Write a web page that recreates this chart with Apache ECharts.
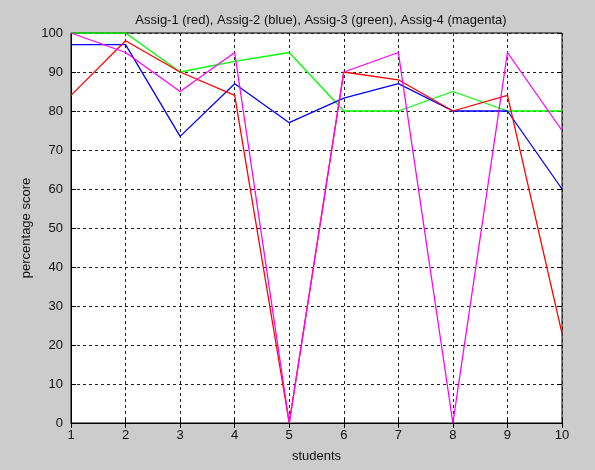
<!DOCTYPE html>
<html><head><meta charset="utf-8">
<script src="https://cdn.jsdelivr.net/npm/echarts@6/dist/echarts.min.js"></script>
<style>html,body{margin:0;padding:0;background:#cccccc;}#c{width:595px;height:470px;}</style>
</head><body><div id="c"></div>
<script>
const students = [1,2,3,4,5,6,7,8,9,10];
const assig1 = [84,98,90,84,0,90,88,80,84,23];
const assig2 = [97,97,73.5,87,77,83.3,87,80,80,60];
const assig3 = [100,100,90,92.7,95,80,80,85,80,80];
const assig4 = [100,95,85,95,0,90,95,0,95,75];
const titleText = 'Assig-1 (red), Assig-2 (blue), Assig-3 (green), Assig-4 (magenta)';

const pair = arr => students.map((s,i)=>[s,arr[i]]);
const font = 'Arial, "Liberation Sans", sans-serif';
const gridLine = {show:true,lineStyle:{color:'#222',type:[3,3],width:1}};
const mk = (name,data,color)=>({name,type:'line',data:pair(data),symbol:'none',
  lineStyle:{color,width:1.3},itemStyle:{color},xAxisIndex:0,yAxisIndex:0,z:3});

const chart = echarts.init(document.getElementById('c'));
chart.setOption({
  backgroundColor:'#cccccc',
  animation:false,
  title:{text:titleText,left:316,textAlign:'center',top:9,
    textStyle:{fontFamily:font,fontSize:13,fontWeight:'normal',color:'#111'}},
  grid:{left:71,right:33,top:33,bottom:47,show:true,backgroundColor:'#ffffff',borderColor:'#000',borderWidth:1},
  xAxis:[{type:'value',min:1,max:10,interval:1,name:'students',nameLocation:'middle',nameGap:27,
    nameMoveOverlap:false,
    nameTextStyle:{fontFamily:font,fontSize:13,color:'#111'},
    axisLine:{show:true,lineStyle:{color:'#000'}},
    axisTick:{show:true,inside:true,length:5,lineStyle:{color:'#000'}},
    axisLabel:{fontFamily:font,fontSize:13,color:'#111',margin:6},
    splitLine:gridLine},
   {type:'value',position:'top',min:1,max:10,interval:1,
    axisLine:{show:false},axisTick:{show:true,inside:true,length:5,lineStyle:{color:'#000'}},
    axisLabel:{show:false},splitLine:{show:false}}],
  yAxis:[{type:'value',min:0,max:100,interval:10,name:'percentage score',nameLocation:'middle',nameGap:38,
    nameMoveOverlap:false,
    nameTextStyle:{fontFamily:font,fontSize:13,color:'#111'},
    axisLine:{show:true,lineStyle:{color:'#000'}},
    axisTick:{show:true,inside:true,length:5,lineStyle:{color:'#000'}},
    axisLabel:{fontFamily:font,fontSize:13,color:'#111',margin:8},
    splitLine:gridLine},
   {type:'value',position:'right',min:0,max:100,interval:10,
    axisLine:{show:false},axisTick:{show:true,inside:true,length:5,lineStyle:{color:'#000'}},
    axisLabel:{show:false},splitLine:{show:false}}],
  series:[mk('Assig-3',assig3,'#00ff00'),mk('Assig-2',assig2,'#0000ff'),mk('Assig-1',assig1,'#ff0000'),mk('Assig-4',assig4,'#ff00ff')]
});
</script></body></html>
